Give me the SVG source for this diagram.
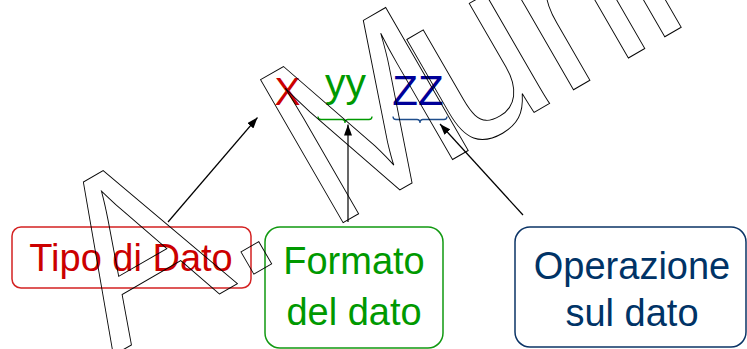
<svg xmlns="http://www.w3.org/2000/svg" width="747" height="349" viewBox="0 0 747 349">
  <style>
    .lbl { font-family: "Liberation Sans", Arial, sans-serif; font-size: 38px; text-anchor: middle; }
    .code { font-family: "Liberation Sans", Arial, sans-serif; text-anchor: middle; }
    .box { fill: none; stroke-width: 1.5; }
    .conn { stroke: #000; stroke-width: 1.2; fill: none; marker-end: url(#ah); }
    .brace { fill: none; stroke-width: 1.3; }
    .wm { font-family: "Liberation Sans", Arial, sans-serif; font-size: 240px; fill: none; stroke: #000; stroke-width: 1; }
  </style>
  <defs>
    <marker id="ah" markerWidth="11" markerHeight="8" refX="11" refY="4" orient="auto" markerUnits="userSpaceOnUse">
      <path d="M0,0 L11,4 L0,8 Z" fill="#000"/>
    </marker>
  </defs>
  <rect width="747" height="349" fill="#fff"/>

  <g id="code-x">
    <text class="code" x="287.5" y="105" font-size="39" fill="#CC0000">X</text>
  </g>
  <g id="code-yy">
    <text class="code" x="345.5" y="96.5" font-size="41" fill="#009900">yy</text>
    <path class="brace" stroke="#009900" d="M318,116.5 Q318,119.5 321,119.5 H342 Q345,119.5 345,123 Q345,119.5 348,119.5 H369 Q372,119.5 372,116.5"/>
  </g>
  <g id="code-zz">
    <text class="code" x="418" y="105" font-size="42" fill="#000099">ZZ</text>
    <path class="brace" stroke="#1F4E8C" d="M393,116.5 Q393,119.5 396,119.5 H417 Q420,119.5 420,123 Q420,119.5 423,119.5 H444 Q447,119.5 447,116.5"/>
  </g>

  <g id="tipo">
    <rect class="box" x="12" y="227" width="239" height="61" rx="9" stroke="#D42222"/>
    <text class="lbl" x="131" y="271" fill="#CC0000">Tipo di Dato</text>
  </g>
  <g id="formato">
    <rect class="box" x="265" y="227" width="178" height="121" rx="15" stroke="#119911"/>
    <text class="lbl" x="354" y="274" fill="#009900">Formato</text>
    <text class="lbl" x="354" y="325" fill="#009900">del dato</text>
  </g>
  <g id="operazione">
    <rect class="box" x="515" y="227" width="231" height="120" rx="15" stroke="#0B3466"/>
    <text class="lbl" x="632" y="279" fill="#003366">Operazione</text>
    <text class="lbl" x="632" y="326" fill="#003366">sul dato</text>
  </g>

  <g id="connectors">
    <line class="conn" x1="168" y1="222" x2="257.5" y2="117.5"/>
    <line class="conn" x1="348" y1="222" x2="348" y2="124.5"/>
    <line class="conn" x1="523" y1="215" x2="440" y2="124"/>
  </g>

  <g id="watermark">
    <text class="wm" transform="translate(113,355.5) rotate(-30) scale(0.9,1)" x="0 158.7 275.6 442.7 574 645 692">A.Murli</text>
  </g>
</svg>
